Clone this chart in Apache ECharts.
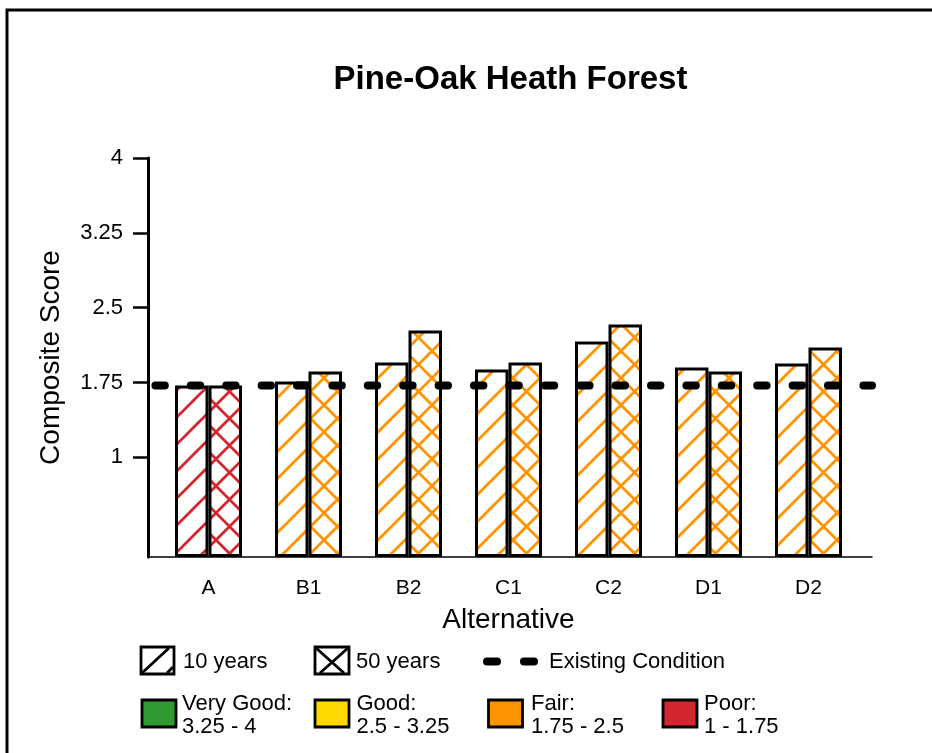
<!DOCTYPE html>
<html>
<head>
<meta charset="utf-8">
<script src="https://cdn.jsdelivr.net/npm/echarts@6.0.0/dist/echarts.min.js"></script>
<style>
html,body{margin:0;padding:0;background:#fff;}
#chart{width:932px;height:753px;}
</style>
</head>
<body>
<div id="chart"></div>
<script>
// ---------------- data ----------------
const categories = ['A', 'B1', 'B2', 'C1', 'C2', 'D1', 'D2'];
const tenYears   = [1.72, 1.76, 1.95, 1.88, 2.16, 1.90, 1.94];
const fiftyYears = [1.72, 1.86, 2.27, 1.95, 2.33, 1.86, 2.10];
const existingCondition = 1.72;
const yTickValues = [1, 1.75, 2.5, 3.25, 4];
const ratingNames  = ['Very Good:', 'Good:', 'Fair:', 'Poor:'];
const ratingRanges = ['3.25 - 4', '2.5 - 3.25', '1.75 - 2.5', '1 - 1.75'];
const ratingLower  = [3.25, 2.5, 1.75, 1];
const seriesNames  = ['10 years', '50 years', 'Existing Condition'];

// ---------------- styles ----------------
const FONT = '"Liberation Sans", Arial, Helvetica, sans-serif';
const ratingColors = ['#2f9a30', '#ffd800', '#ff9300', '#d3262f'];

function rating(v) {
  for (let i = 0; i < ratingLower.length; i++) if (v >= ratingLower[i]) return i;
  return ratingLower.length - 1;
}

function makePattern(color, cross) {
  const T = 27;
  const c = document.createElement('canvas');
  c.width = T; c.height = T;
  const g = c.getContext('2d');
  g.fillStyle = '#ffffff';
  g.fillRect(0, 0, T, T);
  g.strokeStyle = color;
  g.lineWidth = 2.8;
  g.beginPath();
  // "/" lines
  g.moveTo(-3, T + 3); g.lineTo(T + 3, -3);
  g.moveTo(-3, 3); g.lineTo(3, -3);
  g.moveTo(T - 3, T + 3); g.lineTo(T + 3, T - 3);
  if (cross) {
    g.moveTo(-3, -3); g.lineTo(T + 3, T + 3);
    g.moveTo(-3, T - 3); g.lineTo(3, T + 3);
    g.moveTo(T - 3, -3); g.lineTo(T + 3, 3);
  }
  g.stroke();
  return c;
}
const hatchPatterns = ratingColors.map(col => makePattern(col, false));
const crossPatterns = ratingColors.map(col => makePattern(col, true));

function barData(values, patterns) {
  return values.map(v => ({
    value: v,
    itemStyle: { color: { image: patterns[rating(v)], repeat: 'repeat' } }
  }));
}

// ---------------- legend graphics ----------------
const graphics = [];
// outer frame
graphics.push({
  type: 'rect', silent: true,
  shape: { x: 7, y: 10, width: 1000, height: 1000 },
  style: { fill: 'none', stroke: '#000', lineWidth: 3 }
});
// title
graphics.push({
  type: 'text', x: 510.5, y: 80,
  style: { text: 'Pine-Oak Heath Forest', font: 'bold 33px ' + FONT, fill: '#000',
           textAlign: 'center', textVerticalAlign: 'middle' }
});
// 10 years icon
graphics.push({ type: 'rect', shape: { x: 141, y: 647, width: 33, height: 27 },
  style: { fill: '#fff', stroke: '#000', lineWidth: 2.8 } });
graphics.push({ type: 'line', shape: { x1: 142, y1: 673, x2: 169, y2: 648 },
  style: { stroke: '#000', lineWidth: 2.8 } });
graphics.push({ type: 'line', shape: { x1: 167, y1: 673, x2: 173, y2: 667 },
  style: { stroke: '#000', lineWidth: 2.8 } });
graphics.push({ type: 'text', x: 183, y: 661.5,
  style: { text: seriesNames[0], font: '22px ' + FONT, fill: '#000', textVerticalAlign: 'middle' } });
// 50 years icon
graphics.push({ type: 'rect', shape: { x: 315, y: 647, width: 34, height: 27 },
  style: { fill: '#fff', stroke: '#000', lineWidth: 2.8 } });
graphics.push({ type: 'line', shape: { x1: 316, y1: 648, x2: 344, y2: 673 },
  style: { stroke: '#000', lineWidth: 2.8 } });
graphics.push({ type: 'line', shape: { x1: 320, y1: 673, x2: 348, y2: 648 },
  style: { stroke: '#000', lineWidth: 2.8 } });
graphics.push({ type: 'text', x: 356, y: 661.5,
  style: { text: seriesNames[1], font: '22px ' + FONT, fill: '#000', textVerticalAlign: 'middle' } });
// existing condition icon
graphics.push({ type: 'line', shape: { x1: 487, y1: 661.5, x2: 497, y2: 661.5 },
  style: { stroke: '#000', lineWidth: 8, lineCap: 'round' } });
graphics.push({ type: 'line', shape: { x1: 524, y1: 661.5, x2: 534, y2: 661.5 },
  style: { stroke: '#000', lineWidth: 8, lineCap: 'round' } });
graphics.push({ type: 'text', x: 549, y: 661.5,
  style: { text: seriesNames[2], font: '22px ' + FONT, fill: '#000', textVerticalAlign: 'middle' } });
// rating colour legend
const boxX = [142, 315, 488.5, 663];
const textX = [182, 356.5, 531, 704];
ratingNames.forEach((nm, i) => {
  graphics.push({ type: 'rect', shape: { x: boxX[i], y: 700, width: 34, height: 27 },
    style: { fill: ratingColors[i], stroke: '#000', lineWidth: 2.8 } });
  graphics.push({ type: 'text', x: textX[i], y: 703.5,
    style: { text: nm, font: '22px ' + FONT, fill: '#000', textVerticalAlign: 'middle' } });
  graphics.push({ type: 'text', x: textX[i], y: 726.5,
    style: { text: ratingRanges[i], font: '22px ' + FONT, fill: '#000', textVerticalAlign: 'middle' } });
});

// ---------------- chart ----------------
const chart = echarts.init(document.getElementById('chart'), null, { renderer: 'canvas' });
chart.setOption({
  animation: false,
  backgroundColor: '#ffffff',
  textStyle: { fontFamily: FONT },
  grid: [
    { left: 158.5, right: 73.5, top: 158, bottom: 196 },
    { left: 148, right: 60, top: 158, bottom: 196 }
  ],
  xAxis: [
    {
      type: 'category', gridIndex: 0, data: categories,
      axisLine: { show: false }, axisTick: { show: false },
      axisLabel: { fontSize: 21, color: '#000', margin: 21, fontFamily: FONT },
      name: 'Alternative', nameLocation: 'middle', nameGap: 49,
      nameTextStyle: { fontSize: 28, color: '#000', fontFamily: FONT },
      splitLine: { show: false }
    },
    {
      type: 'value', gridIndex: 1, min: 0, max: 1,
      axisLine: { show: true, lineStyle: { color: '#000', width: 1.5 } },
      axisTick: { show: false }, axisLabel: { show: false }, splitLine: { show: false }
    }
  ],
  yAxis: [
    { type: 'value', gridIndex: 0, min: 0, max: 4, show: false, splitLine: { show: false } },
    {
      type: 'value', gridIndex: 1, min: 0, max: 4, interval: 0.25,
      axisLine: { show: true, lineStyle: { color: '#000', width: 3 } },
      axisTick: { show: true, length: 15, customValues: yTickValues,
                  lineStyle: { color: '#000', width: 2.5 } },
      axisLabel: { customValues: yTickValues, fontSize: 22, color: '#000', margin: 25, fontFamily: FONT },
      splitLine: { show: false },
      name: 'Composite Score', nameLocation: 'middle', nameGap: 83, nameRotate: 90,
      nameTextStyle: { fontSize: 28, color: '#000', fontFamily: FONT }
    }
  ],
  series: [
    {
      type: 'bar', name: seriesNames[0], xAxisIndex: 0, yAxisIndex: 0,
      barGap: '0%', barCategoryGap: '33%',
      itemStyle: { borderColor: '#000', borderWidth: 3 },
      data: barData(tenYears, hatchPatterns), silent: true
    },
    {
      type: 'bar', name: seriesNames[1], xAxisIndex: 0, yAxisIndex: 0,
      barGap: '0%', barCategoryGap: '33%',
      itemStyle: { borderColor: '#000', borderWidth: 3 },
      data: barData(fiftyYears, crossPatterns), silent: true
    },
    {
      type: 'line', name: seriesNames[2], xAxisIndex: 1, yAxisIndex: 1,
      data: [[0, existingCondition], [1, existingCondition]],
      symbol: 'none', silent: true, z: 5,
      lineStyle: { color: '#000', width: 8, type: [9.4, 26], dashOffset: 28, cap: 'round' }
    }
  ],
  graphic: graphics
});
</script>
</body>
</html>
